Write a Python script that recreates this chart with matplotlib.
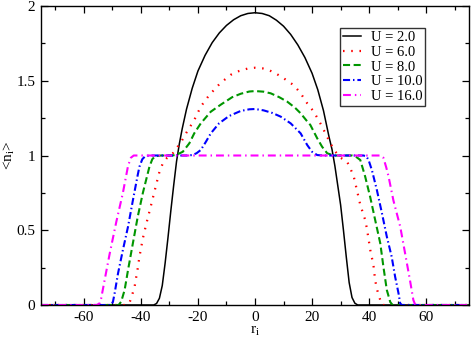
import matplotlib
matplotlib.use('Agg')
import matplotlib.pyplot as plt
from matplotlib.ticker import MultipleLocator, FuncFormatter

plt.rcParams['font.family'] = ['Liberation Serif', 'DejaVu Serif']
plt.rcParams['mathtext.fontset'] = 'custom'
plt.rcParams['mathtext.rm'] = 'Liberation Serif'
plt.rcParams['mathtext.it'] = 'Liberation Serif:italic'

# density profiles <n_i> vs r_i
r_u2 = [-75, -35.5, -34.5, -33.5, -32.5, -31.5, -30.5, -29.5, -28.5, -27.5, -26.5, -25.5,
        -24, -22, -20, -17.5, -15, -12.5, -10, -7.5, -5, -2.5, 0, 2.5, 5, 7.5, 10, 12.5,
        15, 17.5, 20, 22, 24, 26, 27, 28, 29, 30, 31, 32, 33, 34, 35, 36, 75]
n_u2 = [0, 0, 0.01, 0.045, 0.13, 0.28, 0.45, 0.63, 0.80, 0.96, 1.08, 1.18,
        1.31, 1.45, 1.565, 1.67, 1.755, 1.82, 1.87, 1.908, 1.935, 1.95, 1.955, 1.95, 1.935,
        1.905, 1.865, 1.81, 1.74, 1.655, 1.55, 1.44, 1.3, 1.12, 1.04, 0.93, 0.80, 0.67,
        0.50, 0.32, 0.15, 0.05, 0.012, 0, 0]

r_u6 = [-75, -45, -44, -43.4, -42.2, -41.6, -41.1, -40.5, -39.3, -38.2, -36.4, -34.7, -33.5,
        -32.3, -30.8, -28.8, -25.9, -24.2, -21.3, -19, -16, -12.2, -8.5, -5.6, -2.5, 0,
        2.6, 5, 7.2, 10.1, 13.6, 16, 18.3, 20.6, 22.9, 24.7, 26.4, 28.2, 30, 32.3, 33.4,
        34.6, 35.7, 36.9, 38.6, 39.2, 40.4, 41.5, 42.1, 42.7, 43.3, 44.5, 75]
n_u6 = [0, 0, 0.015, 0.045, 0.122, 0.19, 0.245, 0.323, 0.446, 0.535, 0.67, 0.80, 0.89,
        0.948, 0.985, 1.015, 1.09, 1.148, 1.237, 1.327, 1.405, 1.483, 1.54, 1.565, 1.582, 1.587,
        1.583, 1.57, 1.55, 1.516, 1.47, 1.416, 1.349, 1.293, 1.215, 1.148, 1.082, 1.025, 0.985,
        0.958, 0.914, 0.86, 0.77, 0.67, 0.57, 0.513, 0.368, 0.268, 0.167, 0.11, 0.067, 0, 0]

r_u8 = [-75, -47.8, -46.9, -45.7, -44.5, -42.8, -41.1, -39.3, -37, -36, -35, -33, -29, -27.5,
        -25.3, -23, -21.3, -19, -15.5, -12, -8, -5, -2, 0, 3, 5.5, 8.5, 11.3, 14, 16, 18,
        19.4, 21.8, 23.5, 25.3, 27.6, 34, 35.5, 36.9, 38.6, 40.4, 42.1, 43.9, 45, 46.2, 47.4,
        48.2, 75]
n_u8 = [0, 0, 0.022, 0.10, 0.234, 0.413, 0.59, 0.75, 0.925, 0.975, 0.995, 1.0, 1.0, 1.005,
        1.025, 1.082, 1.148, 1.215, 1.293, 1.34, 1.39, 1.413, 1.428, 1.431, 1.427, 1.416, 1.39,
        1.36, 1.32, 1.282, 1.235, 1.204, 1.115, 1.059, 1.015, 1.0, 1.0, 0.99, 0.97, 0.86, 0.72,
        0.57, 0.413, 0.256, 0.10, 0.02, 0, 0]

r_u10 = [-75, -50.5, -49.8, -49.2, -48, -46.3, -44.5, -42.8, -41.1, -40.5, -39.5, -38.5, -37,
         -24, -22, -20.5, -19, -17.2, -15.5, -12.6, -9.1, -5, -2, 0, 3, 6, 9, 12.5, 16, 18.3,
         20, 21.8, 24, 38, 39, 39.8, 41, 42.7, 44.5, 46.2, 47.9, 49.1, 50.3, 50.9, 51.5, 75]
n_u10 = [0, 0, 0.02, 0.078, 0.212, 0.368, 0.524, 0.70, 0.87, 0.925, 0.975, 0.995, 1.0,
         1.0, 1.003, 1.015, 1.037, 1.092, 1.148, 1.215, 1.264, 1.298, 1.309, 1.311, 1.302, 1.285,
         1.26, 1.215, 1.148, 1.07, 1.025, 1.003, 1.0, 1.0, 0.995, 0.97, 0.90, 0.77, 0.613, 0.457,
         0.323, 0.19, 0.078, 0.01, 0, 0]

r_u16 = [-75, -55.5, -54.5, -53.9, -52.7, -50.9, -48.6, -46.3, -44.5, -43.5, -42.5, 44, 45,
         46, 46.8, 48.5, 50.9, 52.6, 54.3, 55.5, 56.2, 75]
n_u16 = [0, 0, 0.01, 0.045, 0.167, 0.346, 0.557, 0.75, 0.93, 0.985, 1.0, 1.0, 0.985,
         0.92, 0.86, 0.70, 0.524, 0.346, 0.167, 0.033, 0, 0]

labels = ['U = 2.0', 'U = 6.0', 'U = 8.0', 'U = 10.0', 'U = 16.0']

fig = plt.figure(figsize=(4.71, 3.38), dpi=100)
ax = fig.add_axes([41 / 471, 33 / 338, 428 / 471, 299 / 338])

ax.plot(r_u2, n_u2, color='black', lw=1.1, label=labels[0])
ax.plot(r_u6, n_u6, color='red', lw=1.6, dashes=(0.7, 3.0), label=labels[1])
ax.plot(r_u8, n_u8, color='#009600', lw=1.5, dashes=(3.4, 1.7), label=labels[2])
ax.plot(r_u10, n_u10, color='blue', lw=1.5, dashes=(3.4, 1.4, 0.7, 1.4), label=labels[3])
ax.plot(r_u16, n_u16, color='magenta', lw=1.5, dashes=(3.8, 1.9, 0.7, 1.9), label=labels[4])

ax.set_xlim(-75, 75)
ax.set_ylim(0, 2)
ax.xaxis.set_major_locator(MultipleLocator(20))
ax.xaxis.set_minor_locator(MultipleLocator(10))
ax.yaxis.set_major_locator(MultipleLocator(0.5))
ax.yaxis.set_minor_locator(MultipleLocator(0.25))
ax.xaxis.set_major_formatter(FuncFormatter(lambda v, p: '%d' % round(v)))
ax.yaxis.set_major_formatter(FuncFormatter(lambda v, p: ('%g' % v)))
ax.tick_params(which='both', direction='in', top=True, right=True, width=0.9)
ax.tick_params(which='major', length=5, labelsize=11, pad=4)
ax.tick_params(which='minor', length=3)
for s in ax.spines.values():
    s.set_linewidth(1.0)

ax.set_xlabel(r'r$_\mathregular{i}$', fontsize=11, labelpad=1)
ax.set_ylabel(r'<n$_\mathregular{i}$>', fontsize=11)
ax.yaxis.set_label_coords(-0.055, 0.5)

leg = ax.legend(loc='upper left', bbox_to_anchor=(0.699, 0.926), borderaxespad=0,
                fontsize=10.5, fancybox=False, frameon=True, handlelength=1.2,
                handletextpad=0.7, labelspacing=0.1, borderpad=0.2)
leg.get_frame().set_edgecolor('black')
leg.get_frame().set_linewidth(1.0)

fig.savefig('out.png', dpi=100)
